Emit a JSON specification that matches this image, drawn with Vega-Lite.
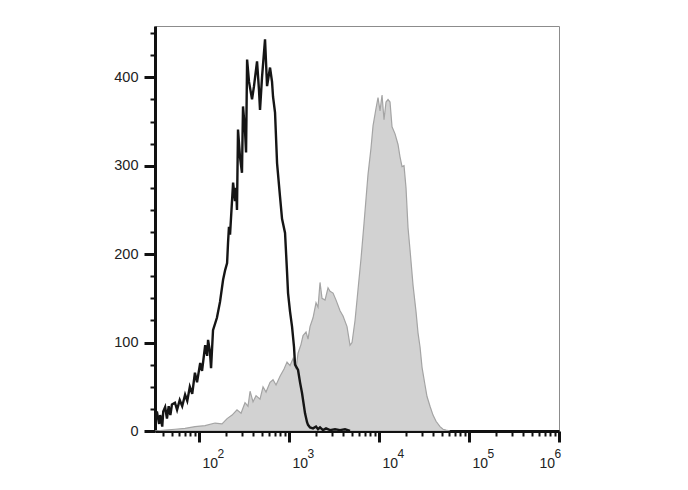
{
  "$schema": "https://vega.github.io/schema/vega-lite/v6.json",
  "autosize": {"type": "none"},
  "padding": {"left": 155, "top": 26, "right": 129, "bottom": 59},
  "width": 404,
  "height": 405,
  "background": "white",
  "config": {
    "view": {"stroke": "#8c8c8c", "strokeWidth": 1},
    "axis": {"grid": false, "title": null, "labelFont": "Liberation Sans", "labelColor": "#222", "tickColor": "#111", "domainColor": "#111", "zindex": 1}
  },
  "datasets": {
    "iso": [
      {"x": 32.4, "count": 12}, {"x": 34, "count": 22}, {"x": 36, "count": 8}, {"x": 37, "count": 18}, {"x": 39, "count": 5},
      {"x": 40, "count": 22}, {"x": 42, "count": 27}, {"x": 44, "count": 14}, {"x": 46, "count": 28}, {"x": 48, "count": 18},
      {"x": 50, "count": 30}, {"x": 54, "count": 32}, {"x": 57, "count": 24}, {"x": 61, "count": 35}, {"x": 65, "count": 28},
      {"x": 70, "count": 41}, {"x": 74, "count": 34}, {"x": 79, "count": 50}, {"x": 84, "count": 42}, {"x": 90, "count": 66},
      {"x": 95, "count": 55}, {"x": 103, "count": 77}, {"x": 108, "count": 68}, {"x": 117, "count": 97}, {"x": 123, "count": 85},
      {"x": 126, "count": 103}, {"x": 132, "count": 90}, {"x": 136, "count": 71}, {"x": 143, "count": 114}, {"x": 158, "count": 128},
      {"x": 171, "count": 146}, {"x": 185, "count": 171}, {"x": 195, "count": 182}, {"x": 205, "count": 190}, {"x": 210, "count": 213},
      {"x": 215, "count": 231}, {"x": 221, "count": 222}, {"x": 239, "count": 281}, {"x": 251, "count": 260}, {"x": 258, "count": 275},
      {"x": 264, "count": 250}, {"x": 271, "count": 341}, {"x": 285, "count": 310}, {"x": 300, "count": 292}, {"x": 308, "count": 367},
      {"x": 324, "count": 340}, {"x": 333, "count": 315}, {"x": 342, "count": 420}, {"x": 359, "count": 395}, {"x": 388, "count": 375},
      {"x": 408, "count": 390}, {"x": 441, "count": 418}, {"x": 464, "count": 385}, {"x": 476, "count": 363}, {"x": 501, "count": 400},
      {"x": 541, "count": 443}, {"x": 570, "count": 390}, {"x": 615, "count": 411}, {"x": 647, "count": 395}, {"x": 664, "count": 378},
      {"x": 699, "count": 360}, {"x": 736, "count": 303}, {"x": 794, "count": 265}, {"x": 836, "count": 240}, {"x": 903, "count": 224},
      {"x": 950, "count": 180}, {"x": 975, "count": 156}, {"x": 1026, "count": 135}, {"x": 1080, "count": 118}, {"x": 1136, "count": 95},
      {"x": 1166, "count": 75}, {"x": 1259, "count": 69}, {"x": 1325, "count": 55}, {"x": 1394, "count": 43}, {"x": 1506, "count": 20},
      {"x": 1585, "count": 10}, {"x": 1626, "count": 7}, {"x": 1711, "count": 4}, {"x": 1848, "count": 3}, {"x": 1995, "count": 5},
      {"x": 2100, "count": 2}, {"x": 2210, "count": 4}, {"x": 2387, "count": 1}, {"x": 2577, "count": 3}, {"x": 2856, "count": 1},
      {"x": 3243, "count": 2}, {"x": 3687, "count": 1}, {"x": 4189, "count": 2}, {"x": 4762, "count": 0}
    ],
    "stained": [
      {"x": 32.4, "count": 0}, {"x": 41.9, "count": 1}, {"x": 54.1, "count": 2}, {"x": 69.9, "count": 3}, {"x": 90.2, "count": 5},
      {"x": 116.6, "count": 6}, {"x": 150.6, "count": 9}, {"x": 180, "count": 8}, {"x": 205, "count": 14}, {"x": 233, "count": 18},
      {"x": 264, "count": 24}, {"x": 293, "count": 20}, {"x": 324, "count": 32}, {"x": 350, "count": 28}, {"x": 369, "count": 45},
      {"x": 398, "count": 33}, {"x": 430, "count": 40}, {"x": 476, "count": 36}, {"x": 514, "count": 50}, {"x": 555, "count": 44},
      {"x": 615, "count": 55}, {"x": 664, "count": 58}, {"x": 717, "count": 52}, {"x": 794, "count": 62}, {"x": 880, "count": 70},
      {"x": 950, "count": 78}, {"x": 1026, "count": 74}, {"x": 1108, "count": 82}, {"x": 1196, "count": 70}, {"x": 1259, "count": 88},
      {"x": 1359, "count": 98}, {"x": 1431, "count": 108}, {"x": 1545, "count": 112}, {"x": 1626, "count": 104}, {"x": 1711, "count": 118},
      {"x": 1848, "count": 128}, {"x": 1995, "count": 145}, {"x": 2100, "count": 140}, {"x": 2210, "count": 168}, {"x": 2326, "count": 150},
      {"x": 2512, "count": 148}, {"x": 2712, "count": 162}, {"x": 2856, "count": 158}, {"x": 3084, "count": 156}, {"x": 3330, "count": 148},
      {"x": 3687, "count": 136}, {"x": 3981, "count": 130}, {"x": 4409, "count": 118}, {"x": 4762, "count": 97}, {"x": 5012, "count": 100},
      {"x": 5412, "count": 125}, {"x": 5843, "count": 160}, {"x": 6310, "count": 195}, {"x": 6813, "count": 235}, {"x": 7543, "count": 290},
      {"x": 8145, "count": 320}, {"x": 8577, "count": 345}, {"x": 9261, "count": 365}, {"x": 9747, "count": 377}, {"x": 10260, "count": 362},
      {"x": 10800, "count": 380}, {"x": 11360, "count": 352}, {"x": 11960, "count": 372}, {"x": 12590, "count": 375}, {"x": 13250, "count": 372},
      {"x": 13950, "count": 344}, {"x": 15060, "count": 336}, {"x": 16260, "count": 324}, {"x": 17110, "count": 310}, {"x": 18010, "count": 299},
      {"x": 18960, "count": 300}, {"x": 19950, "count": 275}, {"x": 21000, "count": 230}, {"x": 22100, "count": 205}, {"x": 23870, "count": 165},
      {"x": 25770, "count": 135}, {"x": 27120, "count": 111}, {"x": 28560, "count": 95}, {"x": 30060, "count": 72}, {"x": 32440, "count": 52},
      {"x": 34150, "count": 39}, {"x": 36870, "count": 28}, {"x": 39810, "count": 18}, {"x": 42990, "count": 11}, {"x": 47620, "count": 5},
      {"x": 51400, "count": 2}, {"x": 55460, "count": 1}, {"x": 61470, "count": 0}
    ]
  },
  "layer": [
    {
      "data": {"name": "stained"},
      "mark": {"type": "area", "color": "#d2d2d2", "stroke": "#a4a4a4", "strokeWidth": 1.2, "clip": true},
      "encoding": {
        "x": {"field": "x", "type": "quantitative", "scale": {"type": "log", "domain": [32.4, 1000000], "nice": false},
          "axis": {"orient": "bottom", "values": [100, 1000, 10000, 100000, 1000000], "labelExpr": "'10'", "tickSize": 11, "tickWidth": 3, "domainWidth": 3, "labelFontSize": 14, "labelAlign": "left", "labelBaseline": "top", "labelOffset": {"condition": {"test": "datum.value >= 1000000", "value": -20}, "value": 3}, "labelPadding": 14, "labelFlush": false, "labelOverlap": false}},
        "y": {"field": "count", "type": "quantitative", "scale": {"domain": [0, 458], "nice": false},
          "axis": {"orient": "left", "values": [0, 100, 200, 300, 400], "tickSize": 11, "tickWidth": 3, "domainWidth": 3, "labelFontSize": 14.5, "labelPadding": 6, "labelFlush": false}}
      }
    },
    {
      "data": {"name": "iso"},
      "mark": {"type": "line", "color": "#151515", "strokeWidth": 2.4, "clip": true},
      "encoding": {
        "x": {"field": "x", "type": "quantitative",
          "axis": {"orient": "bottom", "values": [40, 50, 60, 70, 80, 90, 200, 300, 400, 500, 600, 700, 800, 900, 2000, 3000, 4000, 5000, 6000, 7000, 8000, 9000, 20000, 30000, 40000, 50000, 60000, 70000, 80000, 90000, 200000, 300000, 400000, 500000, 600000, 700000, 800000, 900000], "labels": false, "domain": false, "tickSize": 5, "tickWidth": 2}},
        "y": {"field": "count", "type": "quantitative",
          "axis": {"orient": "left", "values": [25, 50, 75, 125, 150, 175, 225, 250, 275, 325, 350, 375, 425, 450], "labels": false, "domain": false, "tickSize": 5, "tickWidth": 2}}
      }
    },
    {
      "data": {"name": "iso"},
      "mark": {"type": "line", "opacity": 0},
      "encoding": {
        "x": {"field": "x", "type": "quantitative",
          "axis": {"orient": "bottom", "values": [100, 1000, 10000, 100000, 1000000], "labelExpr": "format(log(datum.value)/log(10), '.0f')", "ticks": false, "domain": false, "labelFontSize": 12, "labelAlign": "left", "labelBaseline": "top", "labelOffset": {"condition": {"test": "datum.value >= 1000000", "value": -5}, "value": 18}, "labelPadding": 17, "labelFlush": false, "labelOverlap": false}},
        "y": {"field": "count", "type": "quantitative", "axis": null}
      }
    }
  ],
  "resolve": {"axis": {"x": "independent", "y": "independent"}}
}
